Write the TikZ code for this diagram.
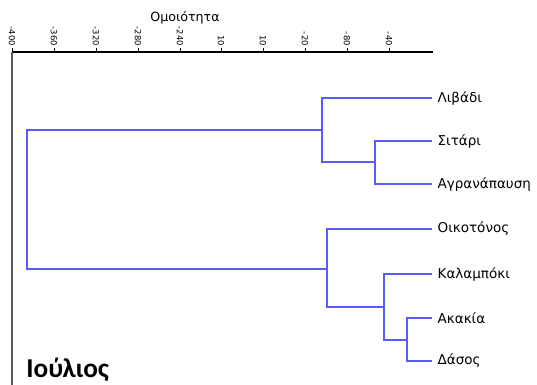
\documentclass[tikz,border=0pt]{standalone}
\usepackage{fontspec}
\setmainfont{DejaVu Sans}
\newfontfamily\titlefont{Carlito}
\usepackage{tikz}
\usetikzlibrary{positioning}
\definecolor{linkblue}{RGB}{90,90,255}
\definecolor{axisgray}{RGB}{90,90,90}

\begin{document}
\begin{tikzpicture}[
    x=0.02cm, y=-0.02cm,
    leaf/.style={anchor=west, inner xsep=3pt, inner ysep=1pt, font=\fontsize{7.7}{9}\selectfont},
    link/.style={draw=linkblue, line width=0.6pt},
    tick/.style={font=\fontsize{4.8}{5.5}\selectfont, rotate=-90, anchor=east, inner sep=0.5pt},
]
    \useasboundingbox (0,0) rectangle (537,385);

    % Axis
    \node[font=\fontsize{7.2}{8}\selectfont] (title) at (185,18) {Ομοιότητα};
    \coordinate (ax0) at (12,52);
    \coordinate (ax1) at (433,52);
    \coordinate (ay1) at (12,385);
    \draw[black, line width=0.6pt] (ax0) -- (ax1);
    \draw[axisgray, line width=0.9pt] (ax0) -- (ay1);
    \foreach \x/\t [count=\i] in {12/-400, 54/-360, 96/-320, 138/-280, 180/-240,
                                  221/10, 263/10, 305/-20, 347/-80, 389/-40} {
        \draw[black, line width=0.4pt] (\x,48) -- (\x,52);
        \node[tick] (t\i) at (\x,47) {\t};
    }

    % Leaves
    \node[leaf] (lv) at (432,98)  {Λιβάδι};
    \node[leaf] (st) at (432,141) {Σιτάρι};
    \node[leaf] (ag) at (432,184) {Αγρανάπαυση};
    \node[leaf] (ok) at (432,229) {Οικοτόνος};
    \node[leaf] (kl) at (432,274) {Καλαμπόκι};
    \node[leaf] (ak) at (432,318) {Ακακία};
    \node[leaf] (ds) at (432,361) {Δάσος};

    % Joins
    \coordinate (j1) at (375,162);
    \coordinate (j2) at (322,130);
    \coordinate (j3) at (407,340);
    \coordinate (j4) at (384,307);
    \coordinate (j5) at (327,269);
    \coordinate (j6) at (27,200);

    \draw[link] (st.west) -| (j1) |- (ag.west);
    \draw[link] (lv.west) -| (j2) |- (j1);
    \draw[link] (ak.west) -| (j3) |- (ds.west);
    \draw[link] (kl.west) -| (j4) |- (j3);
    \draw[link] (ok.west) -| (j5) |- (j4);
    \draw[link] (j2) -| (j6) |- (j5);

    % Month
    \node[font=\titlefont\bfseries\fontsize{15.5}{17}\selectfont, anchor=west, inner sep=0pt] (month) at (26,370) {Ιούλιος};

\end{tikzpicture}
\end{document}
